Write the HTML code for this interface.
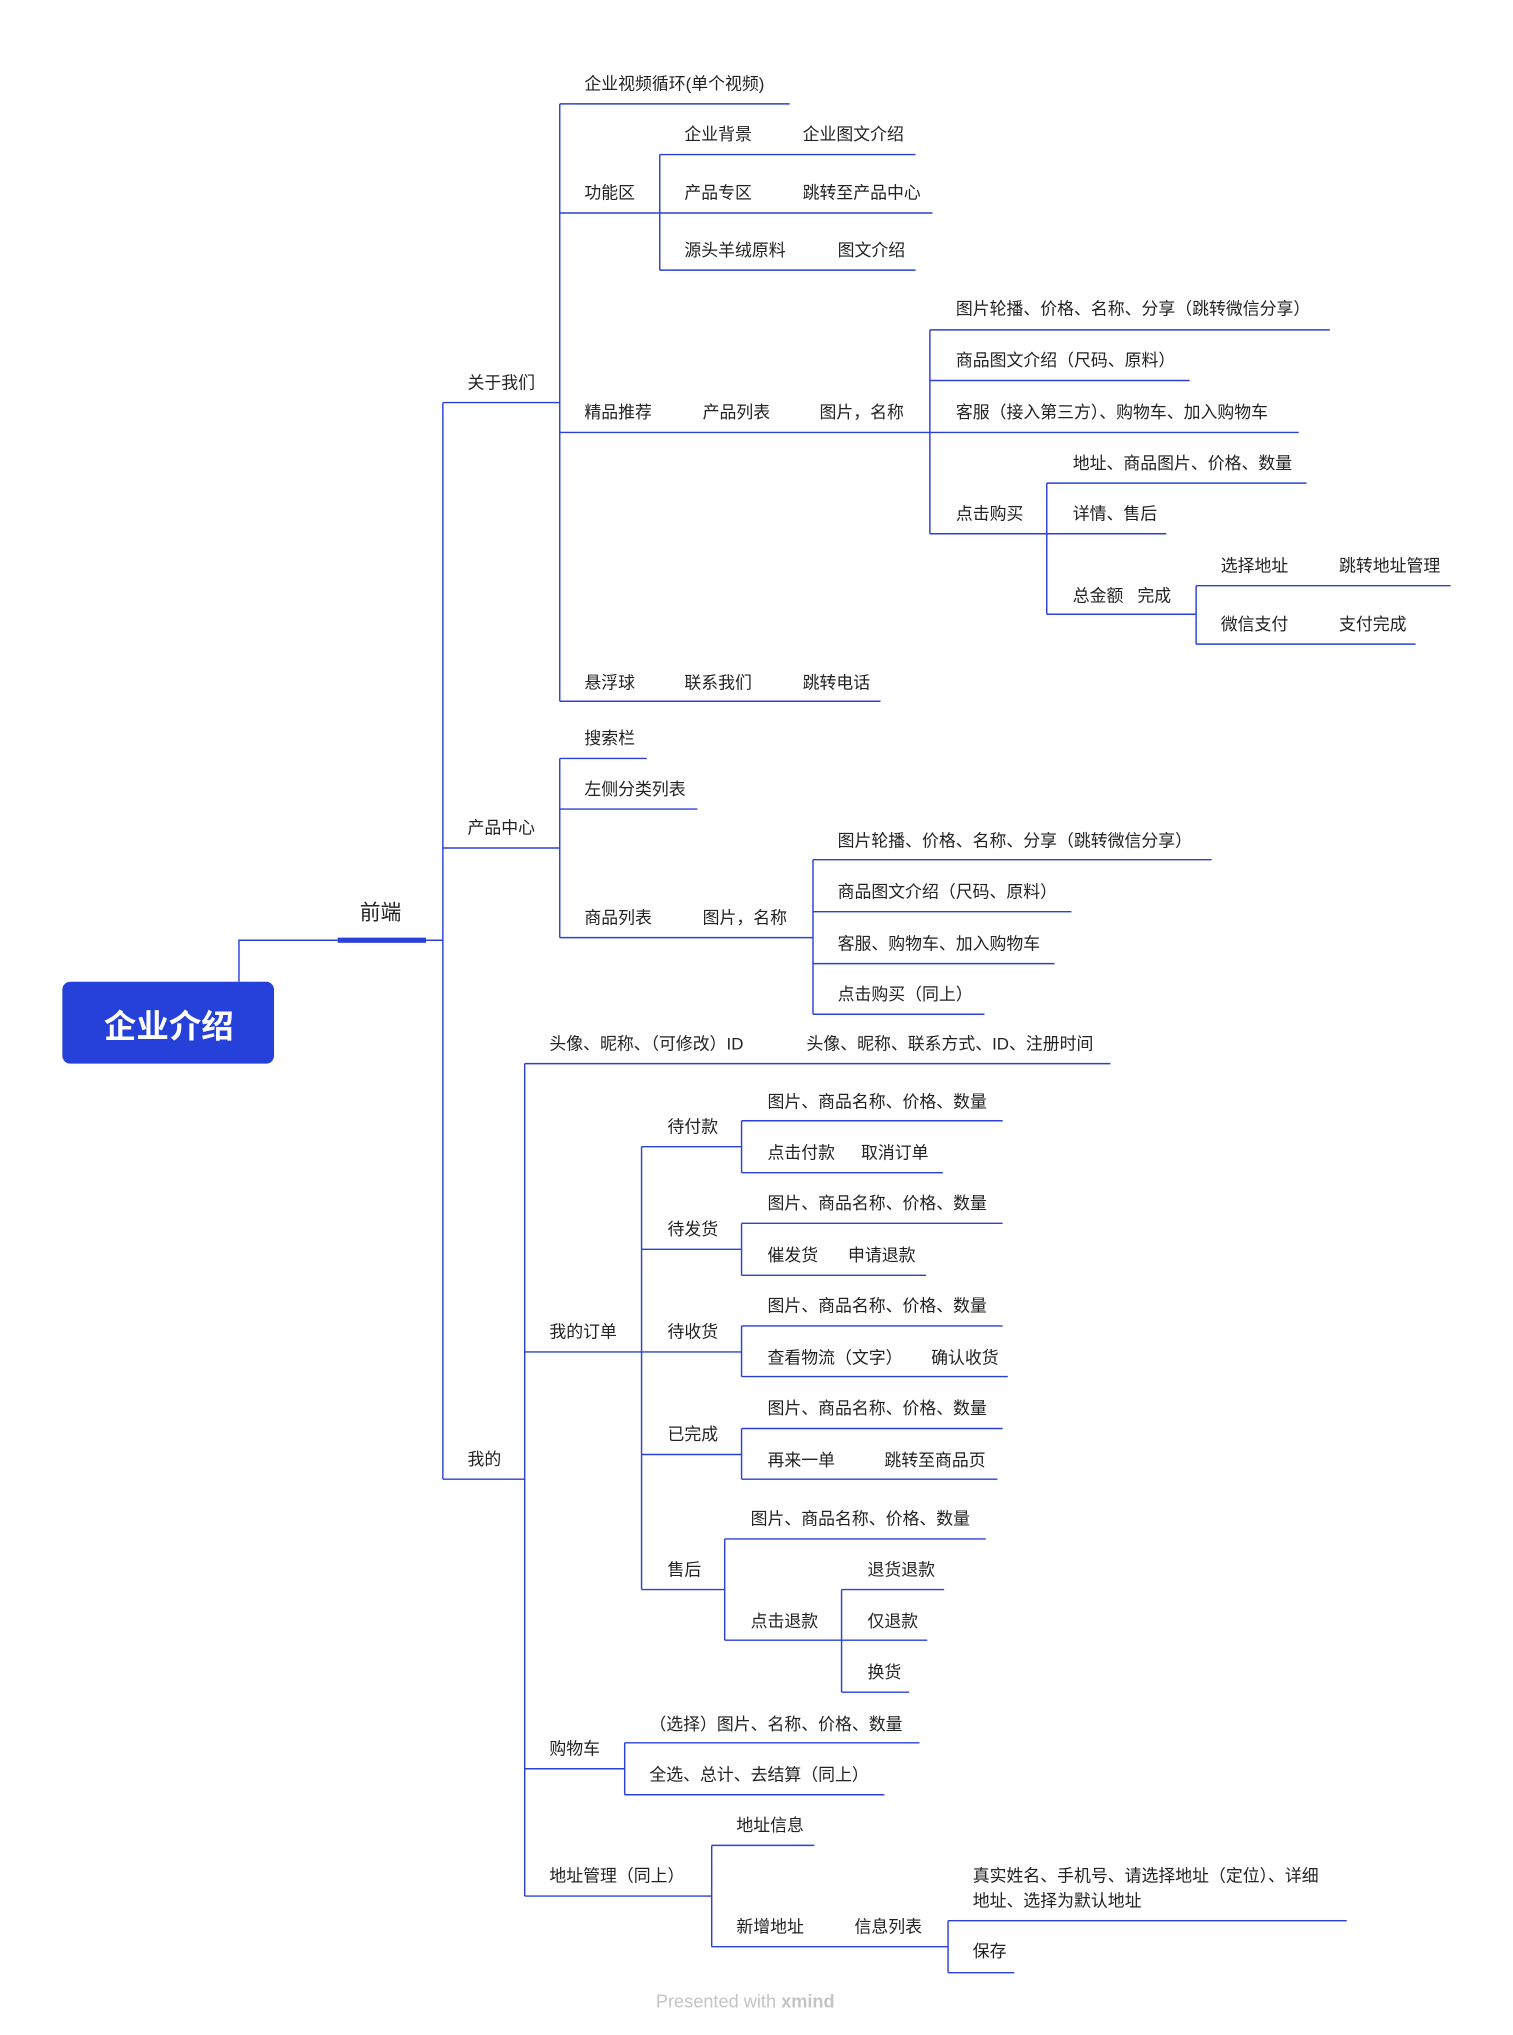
<!DOCTYPE html>
<html><head><meta charset="utf-8"><style>
html,body{margin:0;padding:0;background:#fff;}
svg{display:block}
text{font-family:"Liberation Sans","Noto Sans CJK SC",sans-serif;font-size:13px;fill:#222;}
</style></head><body>
<svg width="1513" height="2035" viewBox="0 0 1165 1567" preserveAspectRatio="none" xmlns="http://www.w3.org/2000/svg">
<g fill="none" stroke="#2a40d8" stroke-width="1.1">
<!-- root to 前端 -->
<path d="M184 756V724H260M328 724H341"/>
<path d="M341 310V1139"/>
<path d="M341 310H431M341 653H431M341 1139H404"/>
<!-- 关于我们 -->
<path d="M431 80V540"/>
<path d="M431 80H608"/>
<path d="M431 164H508M508 119V208M508 119H705M508 164H718M508 208H705"/>
<path d="M431 333H716M716 254V411M716 254H1024M716 293H916M716 333H1000M716 411H806"/>
<path d="M806 372V473M806 372H1006M806 411H898M806 473H921M921 451V496M921 451H1117M921 496H1090"/>
<path d="M431 540H678"/>
<!-- 产品中心 -->
<path d="M431 584V722M431 584H498M431 623H537M431 722H626M626 662V781M626 662H933M626 702H825M626 742H812M626 781H758"/>
<!-- 我的 -->
<path d="M404 819V1460M404 819H855M404 1041H494M494 883V1224"/>
<path d="M494 883H571M571 863V903M571 863H772M571 903H726"/>
<path d="M494 962H571M571 942V982M571 942H772M571 982H713"/>
<path d="M494 1041H571M571 1021V1060M571 1021H772M571 1060H776"/>
<path d="M494 1120H571M571 1100V1139M571 1100H772M571 1139H768"/>
<path d="M494 1224H558M558 1185V1263M558 1185H759M558 1263H648M648 1224V1303M648 1224H727M648 1263H714M648 1303H700"/>
<path d="M404 1362H481M481 1342V1382M481 1342H708M481 1382H681"/>
<path d="M404 1460H548M548 1421V1499M548 1421H627M548 1499H730M730 1479V1519M730 1479H1037M730 1519H781"/>
</g>
<rect x="260" y="722" width="68" height="4" fill="#2a40d8"/>
<rect x="48" y="756" width="163" height="63" rx="6" fill="#2541d9"/>
<text x="130" y="799" text-anchor="middle" style="font-size:25px;font-weight:bold;fill:#fff">企业介绍</text>
<text x="277" y="708" style="font-size:16px">前端</text>
<text x="360" y="299">关于我们</text>
<text x="360" y="642">产品中心</text>
<text x="360" y="1128">我的</text>
<text x="450" y="69">企业视频循环(单个视频)</text>
<text x="450" y="153">功能区</text>
<text x="527" y="108">企业背景</text><text x="618" y="108">企业图文介绍</text>
<text x="527" y="153">产品专区</text><text x="618" y="153">跳转至产品中心</text>
<text x="527" y="197">源头羊绒原料</text><text x="645" y="197">图文介绍</text>
<text x="450" y="322">精品推荐</text><text x="541" y="322">产品列表</text><text x="631" y="322">图片，名称</text>
<text x="736" y="242">图片轮播、价格、名称、分享（跳转微信分享）</text>
<text x="736" y="282">商品图文介绍（尺码、原料）</text>
<text x="736" y="322">客服（接入第三方）、购物车、加入购物车</text>
<text x="736" y="400">点击购买</text>
<text x="826" y="361">地址、商品图片、价格、数量</text>
<text x="826" y="400">详情、售后</text>
<text x="826" y="463">总金额&#160;&#160;&#160;完成</text>
<text x="940" y="440">选择地址</text><text x="1031" y="440">跳转地址管理</text>
<text x="940" y="485">微信支付</text><text x="1031" y="485">支付完成</text>
<text x="450" y="530">悬浮球</text><text x="527" y="530">联系我们</text><text x="618" y="530">跳转电话</text>
<text x="450" y="573">搜索栏</text>
<text x="450" y="612">左侧分类列表</text>
<text x="450" y="711">商品列表</text><text x="541" y="711">图片，名称</text>
<text x="645" y="652">图片轮播、价格、名称、分享（跳转微信分享）</text>
<text x="645" y="691">商品图文介绍（尺码、原料）</text>
<text x="645" y="731">客服、购物车、加入购物车</text>
<text x="645" y="770">点击购买（同上）</text>
<text x="423" y="808">头像、昵称、（可修改）ID</text><text x="621" y="808">头像、昵称、联系方式、ID、注册时间</text>
<text x="423" y="1030">我的订单</text>
<text x="514" y="872">待付款</text>
<text x="591" y="853">图片、商品名称、价格、数量</text>
<text x="591" y="892">点击付款</text><text x="663" y="892">取消订单</text>
<text x="514" y="951">待发货</text>
<text x="591" y="931">图片、商品名称、价格、数量</text>
<text x="591" y="971">催发货</text><text x="653" y="971">申请退款</text>
<text x="514" y="1030">待收货</text>
<text x="591" y="1010">图片、商品名称、价格、数量</text>
<text x="591" y="1050">查看物流（文字）</text><text x="717" y="1050">确认收货</text>
<text x="514" y="1109">已完成</text>
<text x="591" y="1089">图片、商品名称、价格、数量</text>
<text x="591" y="1129">再来一单</text><text x="681" y="1129">跳转至商品页</text>
<text x="514" y="1213">售后</text>
<text x="578" y="1174">图片、商品名称、价格、数量</text>
<text x="578" y="1253">点击退款</text>
<text x="668" y="1213">退货退款</text>
<text x="668" y="1253">仅退款</text>
<text x="668" y="1292">换货</text>
<text x="423" y="1351">购物车</text>
<text x="500" y="1332">（选择）图片、名称、价格、数量</text>
<text x="500" y="1371">全选、总计、去结算（同上）</text>
<text x="423" y="1449">地址管理（同上）</text>
<text x="567" y="1410">地址信息</text>
<text x="567" y="1488">新增地址</text><text x="658" y="1488">信息列表</text>
<text x="749" y="1449">真实姓名、手机号、请选择地址（定位）、详细</text>
<text x="749" y="1468">地址、选择为默认地址</text>
<text x="749" y="1507">保存</text>
<text x="505" y="1546" style="font-size:14px;fill:#c4c4c4">Presented with <tspan style="font-weight:bold;fill:#c4c4c4">xmind</tspan></text>
</svg>
</body></html>
